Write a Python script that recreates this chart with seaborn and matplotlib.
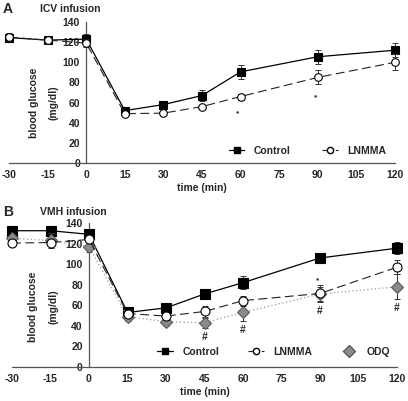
import numpy as np
import pandas as pd
import matplotlib
matplotlib.use("Agg")
import matplotlib.pyplot as plt
import seaborn as sns
from matplotlib.lines import Line2D

# ---------------- data ----------------
time = [-30, -15, 0, 15, 30, 45, 60, 90, 120]
xticks = [-30, -15, 0, 15, 30, 45, 60, 75, 90, 105, 120]
yticks = [0, 20, 40, 60, 80, 100, 120, 140]

# Panel A (ICV infusion)
a_control = [124.5, 122, 123, 52, 58, 67, 90.5, 105.5, 112]
a_control_err = [3, 3, 5, 2, 2, 5, 7, 7, 7]
a_lnmma = [125, 122, 119, 49, 49.5, 56, 66, 85, 100]
a_lnmma_err = [4, 4, 4, 2, 2, 2, 3, 7, 8]
a_stars_x = [59, 89]
a_stars_y = [49, 65]

# Panel B (VMH infusion)
b_control = [132.5, 132.5, 129, 53, 57.5, 71, 82, 106, 115.5]
b_control_err = [3, 3, 5, 3, 3, 4, 6, 5, 6]
b_lnmma = [120.5, 121, 124, 52, 49.5, 54, 64.5, 71.5, 97]
b_lnmma_err = [3, 3, 4, 3, 3, 5, 5, 8, 7]
b_odq = [125, 123, 117, 49, 44, 43, 53, 71, 78]
b_odq_err = [3, 7, 5, 4, 4, 5, 8, 7, 12]
b_hash_x = [45, 60, 90, 120]
b_hash_y = [29, 36, 54, 57]
b_stars_x = [89, -30]
b_stars_y = [84, 116]

sns.set_style("white")
plt.rcParams['font.family'] = ['Liberation Sans', 'DejaVu Sans']
plt.rcParams['font.weight'] = 'bold'
plt.rcParams['axes.unicode_minus'] = False

fig = plt.figure(figsize=(4.08, 4.01), dpi=100)
axA = fig.add_axes([9 / 408, 1 - 163 / 401, 386 / 408, 141 / 401])
axB = fig.add_axes([12 / 408, 1 - 367 / 401, 385 / 408, 144 / 401])

styles = {
    "Control": dict(color="black", linestyle="-", marker="s", mfc="black",
                    mec="black", lw=0.9, legend_ms=4.5),
    "LNMMA": dict(color="#222222", linestyle=(0, (8, 4)), marker="o", mfc="white",
                  mec="black", lw=0.8, legend_ms=4.5),
    "ODQ": dict(color="#999999", linestyle=(0, (1, 2)), marker="D", mfc="#8a8a8a",
                mec="#5a5a5a", lw=0.9, legend_ms=6),
}


def draw_series(ax, name, vals, err, z, ms):
    st = styles[name]
    ax.errorbar(time, vals, yerr=err, fmt="none", ecolor="#333333", elinewidth=0.7,
                capsize=2, capthick=0.7, zorder=z - 1, clip_on=False)
    df = pd.DataFrame({"time": time, "glucose": vals})
    sns.lineplot(data=df, x="time", y="glucose", ax=ax, color=st["color"],
                 linestyle=st["linestyle"], marker=st["marker"],
                 markerfacecolor=st["mfc"], markeredgecolor=st["mec"],
                 markeredgewidth=0.8, markersize=ms, linewidth=st["lw"],
                 zorder=z, clip_on=False, legend=False)


def style_axis(ax, label_x, label_y):
    ax.set_xlim(-30, 120)
    ax.set_ylim(0, 140)
    ax.spines["left"].set_position(("data", 0))
    ax.spines["top"].set_visible(False)
    ax.spines["right"].set_visible(False)
    for s in ("left", "bottom"):
        ax.spines[s].set_color("#555555")
        ax.spines[s].set_linewidth(0.9)
    ax.set_xticks(xticks)
    ax.set_yticks(yticks)
    ax.tick_params(axis="both", direction="out", length=3, width=0.8,
                   color="#555555", labelsize=7.5, pad=2)
    ax.tick_params(axis="y", pad=1.5)
    for lbl in ax.get_xticklabels() + ax.get_yticklabels():
        lbl.set_fontweight("bold")
    ax.set_xlabel("time (min)", fontsize=7.5, fontweight="bold", labelpad=2)
    ax.set_ylabel("")
    ax.text(label_x, label_y, "blood glucose\n(mg/dl)", transform=ax.transAxes,
            rotation=90, ha="center", va="center", fontsize=7.5,
            fontweight="bold", linespacing=2.3)
    ax.patch.set_alpha(0)


def legend_handles(names):
    hs = []
    for n in names:
        st = styles[n]
        hs.append(Line2D([], [], color=st["color"], linestyle=st["linestyle"],
                         marker=st["marker"], markerfacecolor=st["mfc"],
                         markeredgecolor=st["mec"], markersize=st["legend_ms"],
                         linewidth=st["lw"]))
    return hs


# ---------------- Panel A ----------------
draw_series(axA, "Control", a_control, a_control_err, 4, 5.5)
draw_series(axA, "LNMMA", a_lnmma, a_lnmma_err, 6, 5.5)
style_axis(axA, 0.09, 0.425)
for x, y in zip(a_stars_x, a_stars_y):
    axA.text(x, y, "*", ha="center", va="center", fontsize=6)
axA.legend(legend_handles(["Control", "LNMMA"]), ["Control", "LNMMA"],
           ncol=2, frameon=False, fontsize=7.5, handlelength=1.5,
           handletextpad=0.9, columnspacing=3.0, borderpad=0,
           loc="center", bbox_to_anchor=(0.773, 0.085))
fig.text(3 / 408, 1 - 9 / 401, "A", fontsize=10, fontweight="bold",
         va="center", ha="left")
fig.text(40 / 408, 1 - 9 / 401, "ICV infusion", fontsize=7.5,
         fontweight="bold", va="center", ha="left")

# ---------------- Panel B ----------------
draw_series(axB, "Control", b_control, b_control_err, 4, 6.5)
draw_series(axB, "LNMMA", b_lnmma, b_lnmma_err, 6, 6.5)
draw_series(axB, "ODQ", b_odq, b_odq_err, 5, 6.5)
style_axis(axB, 0.082, 0.417)
for x, y in zip(b_hash_x, b_hash_y):
    axB.text(x, y, "#", ha="center", va="center", fontsize=7.5, fontweight="bold")
for x, y in zip(b_stars_x, b_stars_y):
    axB.text(x, y, "*", ha="center", va="center", fontsize=6)
axB.legend(legend_handles(["Control", "LNMMA", "ODQ"]), ["Control", "LNMMA", "ODQ"],
           ncol=3, frameon=False, fontsize=7.5, handlelength=1.5,
           handletextpad=0.9, columnspacing=2.8, borderpad=0,
           loc="center", bbox_to_anchor=(0.68, 0.104))
fig.text(3 / 408, 1 - 212 / 401, "B", fontsize=10, fontweight="bold",
         va="center", ha="left")
fig.text(40 / 408, 1 - 212 / 401, "VMH infusion", fontsize=7.5,
         fontweight="bold", va="center", ha="left")

fig.savefig("out.png", dpi=100)
